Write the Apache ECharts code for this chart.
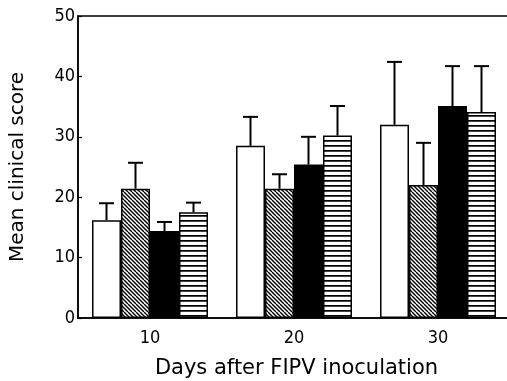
<!DOCTYPE html>
<html>
<head>
<meta charset="utf-8">
<script src="https://cdn.jsdelivr.net/npm/echarts@6/dist/echarts.min.js"></script>
<style>html,body{margin:0;padding:0;background:#fff;}#c{width:507px;height:381px;}</style>
</head>
<body>
<div id="c"></div>
<script>
const categories = ['10', '20', '30'];
const groupNames = ['Group A', 'Group B', 'Group C', 'Group D'];
const meanA = [16.2, 28.5, 32.0];
const meanB = [21.4, 21.4, 22.0];
const meanC = [14.4, 25.4, 35.1];
const meanD = [17.5, 30.2, 34.1];
const upperA = [19.0, 33.3, 42.4];
const upperB = [25.7, 23.8, 29.0];
const upperC = [15.9, 30.0, 41.7];
const upperD = [19.1, 35.1, 41.7];
const yTicks = [0, 10, 20, 30, 40, 50];

function diagPattern() {
  const c = document.createElement('canvas');
  c.width = 8; c.height = 8;
  const g = c.getContext('2d');
  g.fillStyle = '#fff'; g.fillRect(0, 0, 8, 8);
  g.strokeStyle = '#000'; g.lineWidth = 1.4;
  for (let k = -12; k <= 12; k += 4) {
    g.beginPath(); g.moveTo(k, 0); g.lineTo(k + 8, 8); g.stroke();
  }
  return c;
}
function horizPattern() {
  const c = document.createElement('canvas');
  c.width = 5; c.height = 5;
  const g = c.getContext('2d');
  g.fillStyle = '#fff'; g.fillRect(0, 0, 5, 5);
  g.fillStyle = '#000'; g.fillRect(0, 0, 5, 1);
  g.fillStyle = '#444'; g.fillRect(0, 1, 5, 1);
  return c;
}

const BAR_W = 29;
const fills = ['#fff', { image: diagPattern(), repeat: 'repeat' }, '#000', { image: horizPattern(), repeat: 'repeat' }];
const means = [meanA, meanB, meanC, meanD];
const uppers = [upperA, upperB, upperC, upperD];
const font = "'Liberation Sans Narrow', 'DejaVu Sans Condensed', 'Liberation Sans', sans-serif";

const series = [];
means.forEach((m, i) => {
  series.push({
    name: groupNames[i], type: 'bar', data: m, barWidth: BAR_W, barGap: '0%',
    itemStyle: { color: fills[i], borderColor: '#000', borderWidth: 1.5 },
    z: 2
  });
});
means.forEach((m, i) => {
  series.push({
    type: 'custom', z: 1,
    data: m.map((v, j) => [j, v, uppers[i][j]]),
    renderItem: function (params, api) {
      const x0 = api.coord([api.value(0), 0])[0];
      const off = (i - 1.5) * BAR_W;
      const x = x0 + off;
      const yTop = api.coord([api.value(0), api.value(1)])[1];
      const yUp = api.coord([api.value(0), api.value(2)])[1];
      return {
        type: 'group', children: [
          { type: 'line', shape: { x1: x, y1: yTop, x2: x, y2: yUp }, style: { stroke: '#000', lineWidth: 2 } },
          { type: 'line', shape: { x1: x - 7.5, y1: yUp, x2: x + 7.5, y2: yUp }, style: { stroke: '#000', lineWidth: 2 } }
        ]
      };
    }
  });
});

const chart = echarts.init(document.getElementById('c'));
chart.setOption({
  animation: false,
  backgroundColor: '#fff',
  grid: { left: 78, top: 16, width: 432, height: 302, outerBoundsMode: 'none', containLabel: false, show: true, borderColor: '#000', borderWidth: 1.5, backgroundColor: 'transparent' },
  xAxis: {
    type: 'category', data: categories,
    axisLine: { lineStyle: { color: '#000', width: 1.5 } },
    axisTick: { show: false },
    axisLabel: { color: '#000', fontSize: 18, fontFamily: font, margin: 11 },
    name: 'Days after FIPV inoculation', nameLocation: 'middle', nameGap: 40,
    nameTextStyle: { color: '#000', fontSize: 21, fontFamily: "'DejaVu Sans', sans-serif", padding: [0, 0, 0, 5] }
  },
  yAxis: {
    type: 'value', min: 0, max: 50, interval: 10,
    axisLine: { show: true, lineStyle: { color: '#000', width: 1.5 } },
    axisTick: { show: true, inside: true, length: 4, lineStyle: { color: '#000', width: 1.2 } },
    splitLine: { show: false },
    axisLabel: { color: '#000', fontSize: 18, fontFamily: font, margin: 3, formatter: v => yTicks.includes(v) ? String(v) : '' },
    name: 'Mean clinical score', nameLocation: 'middle', nameGap: 50,
    nameTextStyle: { color: '#000', fontSize: 20, fontFamily: "'DejaVu Sans', sans-serif" }
  },
  series: series
});
</script>
</body>
</html>
